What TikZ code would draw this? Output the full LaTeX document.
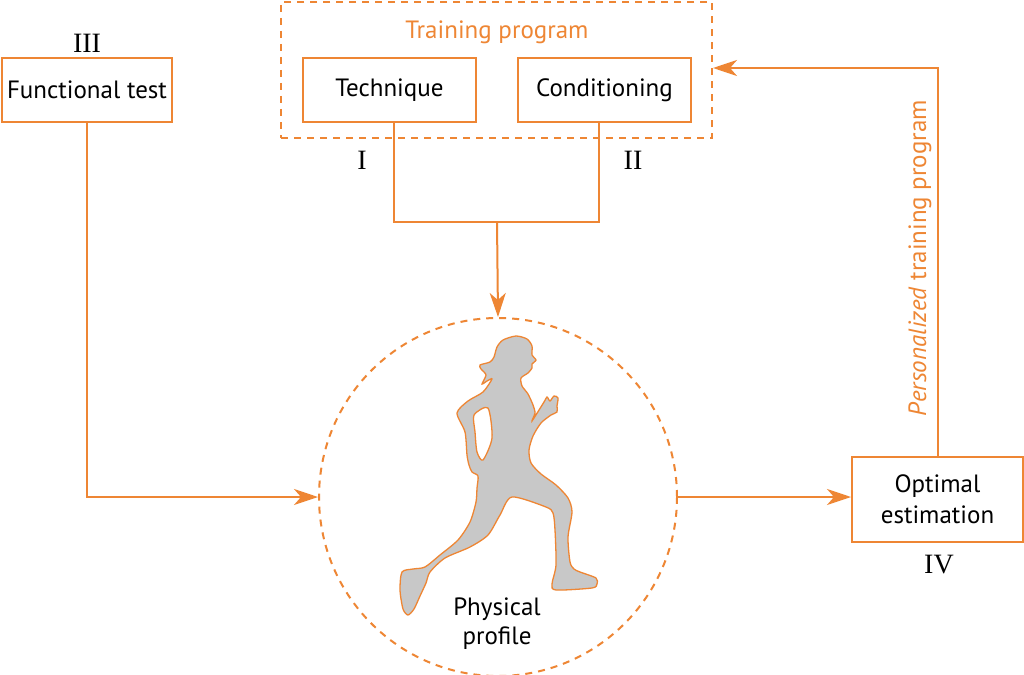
\documentclass[tikz,border=0pt]{standalone}
\usepackage{fontspec}
\setmainfont{PT Sans}
\newfontfamily\romfont{Liberation Serif}
\usetikzlibrary{arrows.meta}
\definecolor{orng}{RGB}{238,134,52}
\definecolor{runnergray}{RGB}{200,200,200}
\tikzset{
  txt/.style={font=\fontsize{25}{29}\selectfont},
  boxnode/.style={draw=orng, line width=2pt, minimum width=#1, minimum height=64pt, inner sep=0pt, txt, align=center},
  dashbox/.style={draw=orng, line width=2pt, dash pattern=on 7pt off 6pt, inner sep=0pt},
  conn/.style={draw=orng, line width=2pt},
  arr/.style={conn, -{Stealth[length=24pt, width=16pt, inset=7pt]}},
  numlbl/.style={font=\romfont\fontsize{28}{30}\selectfont, inner sep=0pt},
}
\begin{document}
\begin{tikzpicture}[x=1pt,y=-1pt]
\useasboundingbox (0,0) rectangle (1024,674);
\fill[white] (0,0) rectangle (1024,674);

% boxes
\node[boxnode=170pt] (functional) at (87,90) {\raisebox{-2pt}{Functional test}};
\node[dashbox, minimum width=431pt, minimum height=136pt] (training) at (496.5,70) {};
\node[txt, text=orng] (traininglbl) at (497,32) {Training program};
\node[boxnode=173pt] (technique) at (389.5,90) {\raisebox{-2pt}{Technique}};
\node[boxnode=173pt] (conditioning) at (604.5,90) {\raisebox{-2pt}{Conditioning}};
\node[boxnode=171pt, minimum height=85pt, font=\fontsize{25}{31}\selectfont] (optimal) at (937.5,499.5) {Optimal\\estimation};
\node[dashbox, circle, minimum size=358pt] (profile) at (498,497) {};

% roman numerals
\node[numlbl] (n3) at (87,43) {III};
\node[numlbl] (n1) at (362,160) {I};
\node[numlbl] (n2) at (633,160) {II};
\node[numlbl] (n4) at (939,565) {IV};

% runner
\path[fill=runnergray, draw=orng, line width=1.3pt, even odd rule]
 plot[smooth cycle, tension=0.45] coordinates {
 (516,336) (527,339) (532,346) (532,355) (536,360) (532,364) (532,368) (528,373)
 (521,378) (522,386) (528,394) (533,405) (535,413) (532,421)
 (544,402) (547,397) (550,401) (554,396) (558,398) (557,406) (557,412) (551,415)
 (541,423) (533,436) (529,450) (531,463) (541,474) (556,485) (568,498) (572,512)
 (568,537) (570,562) (574,569) (580,572) (596,578) (597,584) (592,588) (556,590)
 (552,584) (556,565) (555,530) (553,513) (546,507) (512,497)
 (500,515) (488,535) (470,547) (445,558) (430,572) (426,583) (420,596) (414,609)
 (408,615) (403,609) (400,590) (402,572) (413,569) (425,567) (440,555) (458,540)
 (470,522) (476,502) (477,488) (478,476) (472,472) (469,465) (467,455) (465,432)
 (457,413) (468,401) (483,392) (492,379) (487,381) (482,384) (486,375) (481,369)
 (480,365) (490,362) (494,357) (497,347) (503,340)}
 plot[smooth cycle, tension=0.45] coordinates {
 (474,415) (488,408) (492,438) (483,460) (477,452) (475,432)};

\node[txt, align=center] (profilelbl) at (497,624) {Physical\\profile};

% connectors
\coordinate (merge) at (497,222);
\draw[conn] ([xshift=4.5pt]technique.south) |- (merge) -| ([xshift=-5.5pt]conditioning.south);
\draw[arr] (merge) -- (profile.north);
\draw[arr] (functional.south) |- (profile.west);
\draw[arr] (profile.east) -- (optimal.west |- profile.east);
\coordinate (fbcorner) at (937.5,68);
\draw[arr] (optimal.north) -- (fbcorner) -- (training.east |- fbcorner);
\node[rotate=90, text=orng, txt] (fblbl) at (920,258) {\textit{Personalized} training program};
\end{tikzpicture}
\end{document}
